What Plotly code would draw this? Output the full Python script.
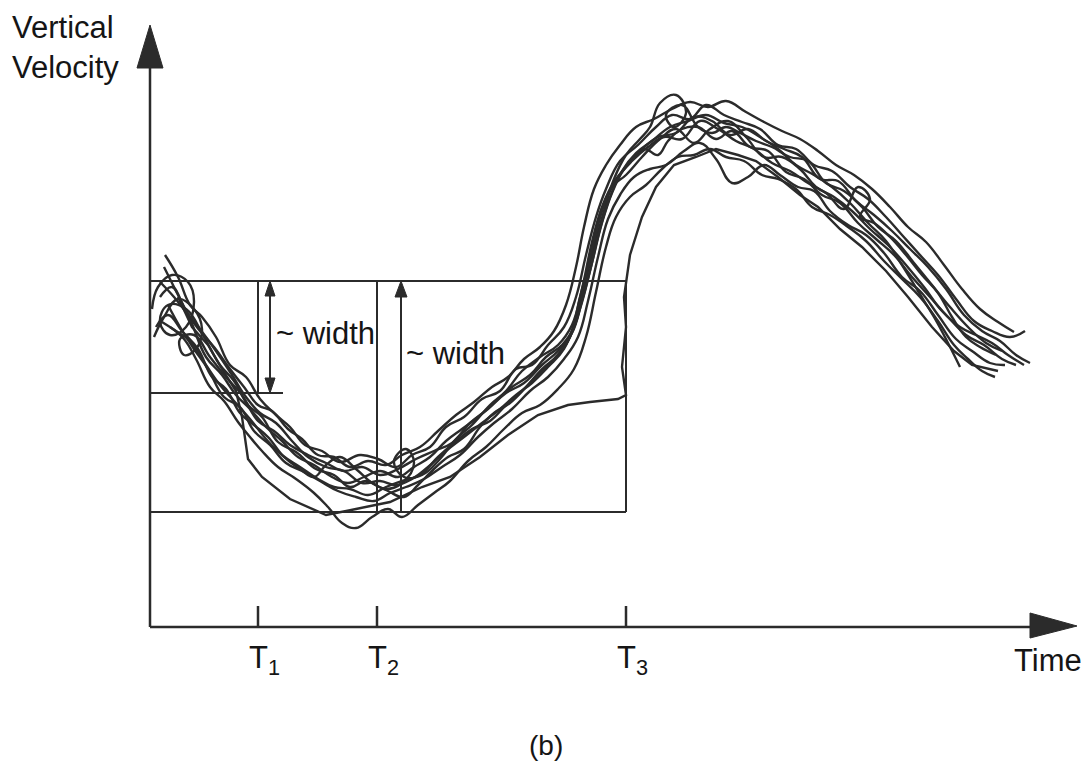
import plotly.graph_objects as go

# ---- data: time t and vertical velocity v, in drawing units (origin at the axes corner)
tick_times = [108, 227, 476]
tick_labels = ["T<sub>1</sub>", "T<sub>2</sub>", "T<sub>3</sub>"]

# velocity window shown by the rectangles
window_low = 115
window_high = 346
early_low = 234

# individual velocity records, traced as (t, v) points
run_a = [(15,372),(28,350),(40,322),(52,310),(66,290),(80,262),(96,250),(110,228),(126,212),(140,200),(155,182),(172,176),(190,165),(210,172),(228,168),(246,160),(262,172),(280,180),(296,200),(314,210),(332,228),(350,236),(366,258),(382,262),(398,282),(414,300),(426,330),(436,372),(446,410),(456,438),(470,466),(488,482),(506,500),(522,512),(540,508),(556,522),(574,512),(592,505),(610,498),(628,482),(646,478),(664,462),(682,456),(700,440),(718,428),(736,410),(752,392),(770,372),(788,352),(806,328),(824,306),(842,296),(860,290),(875,296)]
run_b = [(20,300),(34,288),(46,268),(60,240),(74,226),(88,205),(100,190),(112,176),(128,160),(146,148),(164,134),(178,120),(192,104),(206,99),(222,110),(238,118),(252,110),(268,122),(284,134),(300,146),(318,166),(336,180),(354,198),(372,214),(390,222),(408,238),(424,258),(436,290),(446,335),(456,380),(466,410),(480,430),(496,442),(512,458),(528,470),(544,472),(560,478),(576,470),(594,466),(612,452),(628,448),(646,438),(662,420),(680,412),(698,400),(716,386),(734,366),(752,348),(770,330),(788,306),(804,282),(818,268),(832,256),(845,250)]
run_c = [(2,318),(8,340),(22,352),(38,345),(44,325),(36,300),(20,292),(10,305),(18,322),(36,318),(54,290),(70,262),(84,246),(98,222),(112,210),(128,185),(146,175),(166,158),(184,152),(200,140),(216,146),(236,138),(252,144),(264,164),(256,178),(244,166),(254,150),(272,152),(290,168),(306,188),(322,202),(340,222),(356,236),(372,256),(390,270),(408,282),(422,302),(432,338),(442,385),(452,420),(464,445),(478,462),(494,478),(508,472),(518,486),(532,498),(548,500),(566,488),(582,496),(600,480),(618,476),(636,455),(654,448),(672,432),(690,424),(708,404),(726,388),(744,372),(762,350),(780,330),(798,310),(816,292),(834,282),(852,268),(866,262)]
run_d = [(28,330),(42,300),(58,282),(72,258),(86,236),(92,210),(98,168),(112,150),(140,128),(176,112),(206,118),(240,125),(272,140),(300,150),(330,170),(358,192),(388,212),(418,222),(440,225),(468,228),(476,232),(472,260),(476,300),(474,330),(480,372),(492,410),(506,440),(524,462),(546,470),(566,478),(588,472),(606,466),(628,450),(650,432),(668,420),(690,398),(712,380),(736,356),(758,330),(782,300),(804,276),(822,262),(848,256)]
run_e = [(10,345),(24,330),(38,312),(50,296),(64,280),(80,258),(94,240),(108,222),(122,216),(138,198),(152,188),(168,172),(184,170),(200,160),(218,166),(236,162),(252,172),(270,180),(288,196),(306,212),(324,225),(342,240),(358,250),(374,268),(390,280),(404,296),(416,322),(426,360),(434,400),(444,438),(456,462),(470,482),(486,500),(504,508),(522,518),(540,525),(558,520),(576,526),(596,515),(614,505),(632,496),(650,488),(668,476),(686,462),(704,452),(722,438),(740,420),(758,400),(776,385),(794,362),(812,338),(830,318),(848,305),(864,295)]
run_f = [(6,300),(18,312),(32,296),(48,278),(62,250),(76,238),(90,214),(104,202),(118,190),(134,170),(150,158),(164,150),(176,162),(190,170),(206,158),(222,144),(238,136),(254,130),(268,142),(282,156),(298,170),(314,178),(330,200),(344,214),(360,224),(376,240),(392,258),(408,272),(420,290),(430,330),(440,368),(450,410),(462,440),(476,452),(492,470),(510,488),(526,498),(544,484),(560,498),(578,506),(596,490),(614,470),(632,470),(650,458),(666,440),(684,430),(702,416),(720,398),(738,382),(756,362),(774,340),(792,316),(810,300),(826,292),(842,284),(858,272),(874,262)]
run_g = [(14,360),(26,336),(40,308),(56,270),(72,252),(86,232),(100,218),(116,200),(132,186),(148,170),(164,162),(182,150),(198,144),(214,150),(230,156),(248,150),(264,160),(280,170),(296,186),(312,198),(328,210),(346,226),(362,240),(380,252),(396,270),(412,282),(424,300),(434,340),(444,380),(454,416),(464,448),(476,472),(490,488),(500,500),(510,524),(526,532),(536,514),(524,500),(516,512),(532,522),(548,500),(562,494),(576,500),(590,494),(606,486),(622,480),(640,470),(658,466),(676,444),(694,436),(712,420),(728,400),(746,386),(764,364),(782,342),(800,320),(818,300),(836,284),(852,276)]
run_h = [(18,322),(30,300),(44,278),(58,258),(74,230),(90,220),(104,196),(120,182),(136,164),(152,156),(170,146),(188,136),(206,130),(224,126),(240,134),(256,140),(274,148),(292,160),(310,172),(328,190),(344,204),(362,218),(380,236),(398,250),(414,268),(428,290),(438,326),(448,370),(458,408),(470,432),(484,450),(500,458),(516,462),(534,476),(550,484),(566,468),(582,444),(598,450),(614,462),(630,452),(648,440),(664,436),(680,416),(698,402),(716,392),(734,374),(752,350),(770,336),(788,312),(806,288),(822,276),(840,264),(855,262)]
run_i = [(4,290),(14,310),(28,328),(44,318),(52,298),(46,278),(34,272),(30,288),(44,292),(60,270),(76,250),(92,232),(108,206),(124,196),(140,182),(158,172),(176,164),(194,156),(212,160),(230,152),(248,158),(266,168),(284,176),(302,184),(320,204),(338,218),(356,234),(374,244),(392,262),(408,276),(422,294),(432,326),(442,364),(452,404),(462,434),(474,458),(490,476),(508,490),(526,494),(544,510),(562,506),(580,492),(598,498),(616,486),(634,478),(652,470),(670,448),(688,446),(706,426),(724,412),(742,396),(760,378),(778,360),(796,338),(814,312),(832,296),(850,286),(866,272),(880,264)]
run_j = [(10,330),(22,340),(36,316),(50,298),(66,276),(82,252),(96,230),(110,214),(126,204),(142,186),(158,170),(176,160),(194,156),(212,144),(230,146),(246,142),(262,148),(278,160),(296,176),(314,190),(332,204),(350,218),(366,232),(382,244),(398,260),(414,278),(426,310),(436,350),(446,394),(456,428),(468,450),(482,466),(498,480),(514,490),(532,488),(550,506),(568,498),(586,486),(604,478),(622,464),(640,456),(658,444),(676,434),(694,418),(708,440),(720,428),(710,410),(724,404),(740,390),(756,372),(772,352),(788,334),(802,310),(816,290),(830,280),(846,272)]
run_k = [(12,305),(26,296),(40,286),(56,262),(70,242),(84,226),(100,208),(116,188),(132,172),(150,160),(168,148),(184,140),(200,138),(218,132),(236,140),(252,146),(270,152),(288,170),(304,184),(322,198),(340,206),(356,222),(372,236),(388,252),(404,268),(418,286),(430,318),(440,356),(450,398),(460,430),(472,456),(486,474),(502,486),(520,500),(538,506),(556,512),(574,504),(592,500),(610,490),(628,478),(646,462),(664,452),(682,440),(700,424),(718,404),(736,386),(752,362),(768,336),(784,310),(798,284),(810,260)]

runs = [(run_a, "spline"), (run_b, "spline"), (run_c, "spline"), (run_d, "linear"),
        (run_e, "spline"), (run_f, "spline"), (run_g, "spline"), (run_h, "spline"),
        (run_i, "spline"), (run_j, "spline"), (run_k, "spline")]

INK = "#2b2b2b"
FONT = "Liberation Sans, Arial, Helvetica, sans-serif"

fig = go.Figure()
for pts, shp in runs:
    t = [p[0] for p in pts]
    v = [p[1] for p in pts]
    line = dict(color=INK, width=2.4, shape=shp)
    if shp == "spline":
        line["smoothing"] = 1.2
    fig.add_trace(go.Scatter(x=t, y=v, mode="lines", line=line, hoverinfo="skip"))

shapes = []
def seg(x0, y0, x1, y1, w=2):
    shapes.append(dict(type="line", xref="x", yref="y", x0=x0, y0=y0, x1=x1, y1=y1,
                       line=dict(color=INK, width=w)))

def tri(pts):
    p = "M " + " L ".join(f"{a},{b}" for a, b in pts) + " Z"
    shapes.append(dict(type="path", xref="x", yref="y", path=p,
                       fillcolor=INK, line=dict(color=INK, width=1)))

# axes with arrowheads
seg(0, 0, 0, 565, 2.5)
tri([(-13, 559), (13, 559), (0, 602)])
seg(0, 0, 885, 0, 2.5)
tri([(880, 14), (880, -11), (927, 1)])

# time ticks
for tt in tick_times:
    seg(tt, 0, tt, 21, 2.5)

# velocity window rectangles
seg(0, window_high, tick_times[2], window_high)
seg(0, window_low, tick_times[2], window_low)
seg(tick_times[2], window_low, tick_times[2], window_high)
seg(0, early_low, 133, early_low)
seg(tick_times[0], early_low, tick_times[0], window_high)
seg(tick_times[1], window_low, tick_times[1], window_high)

# width arrows
seg(120, early_low + 12, 120, window_high - 12)
tri([(115, window_high - 15), (125, window_high - 15), (120, window_high)])
tri([(115, early_low + 15), (125, early_low + 15), (120, early_low)])
seg(251, window_low, 251, window_high - 12)
tri([(245, window_high - 16), (257, window_high - 16), (251, window_high)])

annotations = []
def txt(x, y, s, size=31, xanchor="center", yanchor="middle", align="center"):
    annotations.append(dict(x=x, y=y, xref="x", yref="y", text=s, showarrow=False,
                            xanchor=xanchor, yanchor=yanchor, align=align,
                            font=dict(family=FONT, size=size, color="#151515")))

for tt, lab in zip(tick_times, tick_labels):
    txt(tt + 6, -33, lab)
txt(-140, 619, "Vertical<br>Velocity", xanchor="left", yanchor="top", align="left")
txt(898, -33, "Time")
txt(124, 294, "~ width", xanchor="left")
txt(254, 274, "~ width", xanchor="left")
txt(396, -118, "(b)", size=28)

fig.update_layout(
    width=1092, height=764, autosize=False,
    margin=dict(l=0, r=0, t=0, b=0),
    paper_bgcolor="white", plot_bgcolor="white",
    showlegend=False,
    xaxis=dict(range=[-150, 942], visible=False, fixedrange=True),
    yaxis=dict(range=[-137, 627], visible=False, fixedrange=True),
    shapes=shapes, annotations=annotations,
)

fig.write_html("out.html", config={"displayModeBar": False})
